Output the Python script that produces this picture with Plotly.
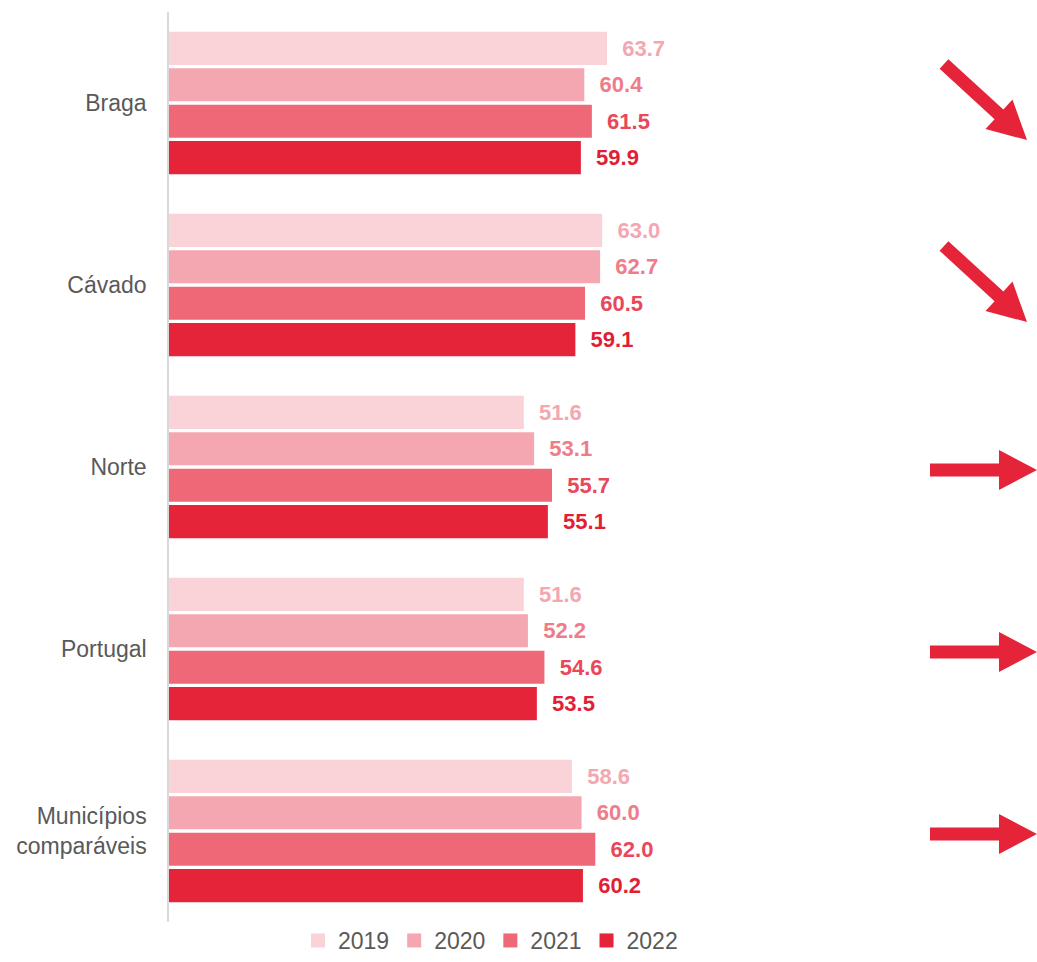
import math
import plotly.graph_objects as go

categories = ["Braga", "Cávado", "Norte", "Portugal", "Municípios<br>comparáveis"]
years = ["2019", "2020", "2021", "2022"]
v2019 = [63.7, 63.0, 51.6, 51.6, 58.6]
v2020 = [60.4, 62.7, 53.1, 52.2, 60.0]
v2021 = [61.5, 60.5, 55.7, 54.6, 62.0]
v2022 = [59.9, 59.1, 55.1, 53.5, 60.2]
trends = ["down", "down", "flat", "flat", "flat"]

bar_colors = ["#F9D3D8", "#F4A7B0", "#EE6877", "#E52339"]
label_colors = ["#F4A7B0", "#EF7C89", "#E9475A", "#E01F36"]
series = [v2019, v2020, v2021, v2022]

W, H = 1037, 962
L, R, T, B = 169, 0, 12, 40
pw, ph = W - L - R, H - T - B

FONT = "Liberation Sans, Arial, sans-serif"

fig = go.Figure()
for yr, vals, bc, lc in zip(years, series, bar_colors, label_colors):
    fig.add_trace(go.Bar(
        y=categories, x=vals, name=yr, orientation="h",
        marker=dict(color=bc, line=dict(width=0)),
        text=["\u00a0\u00a0" + f"{v:.1f}" for v in vals],
        textposition="outside", cliponaxis=False,
        textfont=dict(family=FONT, size=22, color=lc, weight="bold"),
        showlegend=False,
    ))
    fig.add_trace(go.Scatter(
        x=[None], y=[None], mode="markers", name=yr,
        marker=dict(symbol="square", size=14, color=bc),
        showlegend=True,
    ))

def px2paper(x, y):
    return (x - L) / pw, (H - B - y) / ph

def arrow_path(x0, y0, x1, y1, shaft=6.5, head_len=38, head_half=20):
    dx, dy = x1 - x0, y1 - y0
    ln = math.hypot(dx, dy)
    ux, uy = dx / ln, dy / ln
    nx, ny = -uy, ux
    bx, by = x1 - ux * head_len, y1 - uy * head_len
    pts = [
        (x0 + nx * shaft, y0 + ny * shaft),
        (bx + nx * shaft, by + ny * shaft),
        (bx + nx * head_half, by + ny * head_half),
        (x1, y1),
        (bx - nx * head_half, by - ny * head_half),
        (bx - nx * shaft, by - ny * shaft),
        (x0 - nx * shaft, y0 - ny * shaft),
    ]
    pp = [px2paper(a, b) for a, b in pts]
    return "M " + " L ".join(f"{a:.5f},{b:.5f}" for a, b in pp) + " Z"

group_centers = [104, 286, 468, 650, 832]
for tr, cy in zip(trends, group_centers):
    if tr == "down":
        p = arrow_path(944, cy - 40, 1027, cy + 36)
    else:
        p = arrow_path(930, cy + 2, 1037, cy + 2)
    fig.add_shape(type="path", path=p, xref="paper", yref="paper",
                  fillcolor="#E52339", line=dict(width=0), layer="above")

fig.update_layout(
    width=W, height=H,
    margin=dict(l=L, r=R, t=T, b=B, pad=0, autoexpand=False),
    paper_bgcolor="white", plot_bgcolor="white",
    barmode="group", bargap=0.2, bargroupgap=0.09,
    font=dict(family=FONT, color="#595959"),
    showlegend=True,
    legend=dict(orientation="h", x=(298 - L) / pw, xanchor="left",
                y=-B / ph, yanchor="bottom",
                font=dict(family=FONT, size=23, color="#595959"), itemwidth=30,
                tracegroupgap=0, itemclick=False, borderwidth=0),
    xaxis=dict(range=[0, pw / 6.876], visible=False, showgrid=False, zeroline=False,
               fixedrange=True),
    yaxis=dict(autorange="reversed", showgrid=False, zeroline=False,
               showline=True, linecolor="#D9D9D9", linewidth=1.5,
               ticks="", ticklabelstandoff=16, automargin=False, fixedrange=True,
               tickfont=dict(family=FONT, size=23, color="#595959")),
)

fig.write_html(
    "out.html",
    config={"displayModeBar": False},
    post_script="document.body.style.margin='0';document.body.style.overflow='hidden';",
)
